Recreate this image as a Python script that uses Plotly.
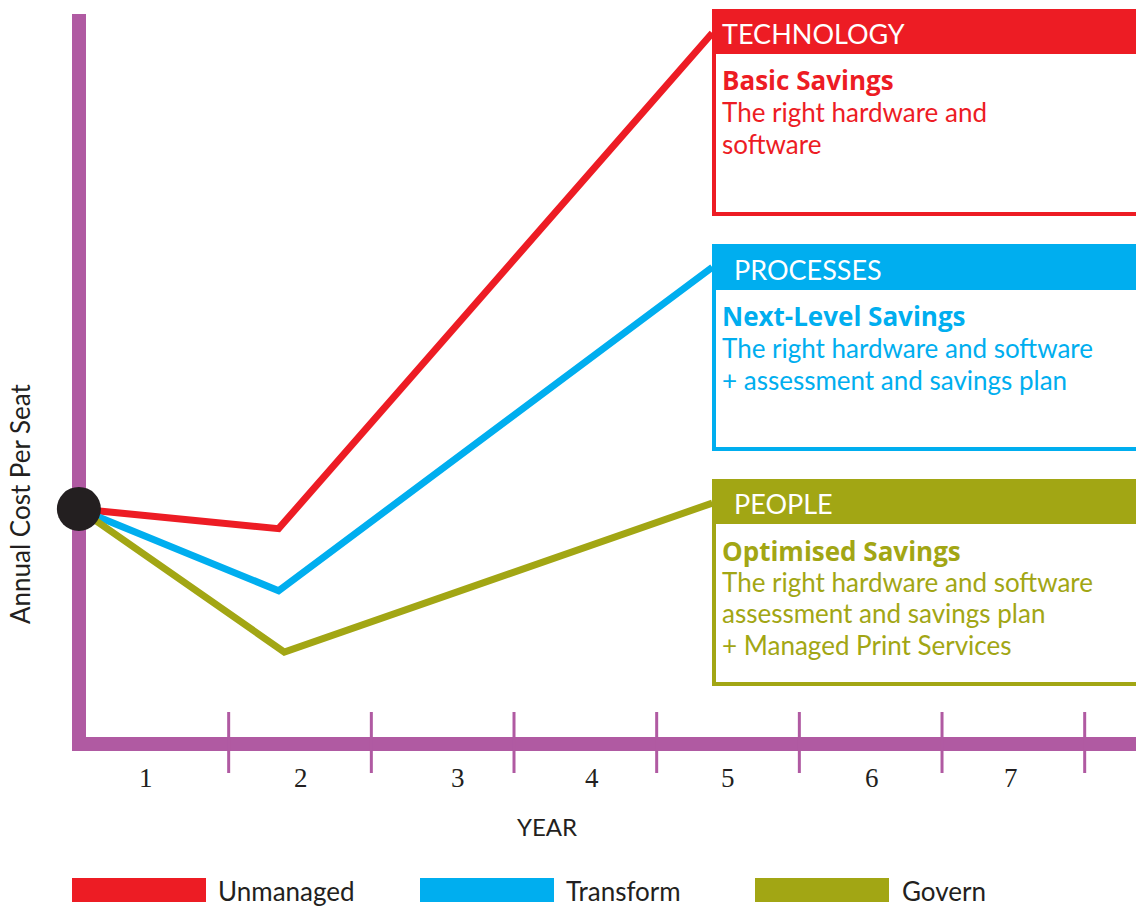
import plotly.graph_objects as go

# ---------------- data ----------------
year_labels = ["1", "2", "3", "4", "5", "6", "7"]
year_label_pos = [0.42, 1.51, 2.61, 3.55, 4.50, 5.51, 6.48]   # year units
year_bounds = [1, 2, 3, 4, 5, 6, 7]

series_names = ["Unmanaged", "Transform", "Govern"]
series_colors = ["#ED1C24", "#00AEEF", "#A2A614"]
series_x = [
    [-0.05, 1.35, 4.39],
    [-0.05, 1.35, 4.39],
    [-0.05, 1.39, 4.39],
]
series_y = [
    [32.2, 29.5, 97.4],
    [32.2, 21.0, 65.3],
    [32.2, 12.6, 33.0],
]
start_x = [-0.05]
start_y = [32.2]

box_headers = ["TECHNOLOGY", "PROCESSES", "PEOPLE"]
box_titles = ["Basic Savings", "Next-Level Savings", "Optimised Savings"]
box_lines = [
    ["The right hardware and", "software"],
    ["The right hardware and software", "+ assessment and savings plan"],
    ["The right hardware and software", "assessment and savings plan", "+ Managed Print Services"],
]

# ---------------- geometry helpers ----------------
W, H = 1136, 906
X0, XS = 86.0, 142.67     # pixel of year 0, pixels per year
Y0, YS = 744.0, 7.3       # pixel of cost 0, pixels per unit
def px(p):  # pixel -> x data
    return (p - X0) / XS
def py(p):  # pixel -> y data
    return (Y0 - p) / YS

PURPLE = "#B05AA2"
DARK = "#231F20"
SANS = "Lato, 'Open Sans', sans-serif"
SANS_BOLD = "'Open Sans', Lato, sans-serif"
SERIF = "'Liberation Serif', 'DejaVu Serif', serif"
PAD = 3  # annotation inner padding

fig = go.Figure()
for name, col, xs, ys in zip(series_names, series_colors, series_x, series_y):
    fig.add_trace(go.Scatter(x=xs, y=ys, mode="lines", name=name,
                             line=dict(color=col, width=7), showlegend=False,
                             hoverinfo="skip"))
fig.add_trace(go.Scatter(x=start_x, y=start_y, mode="markers",
                         marker=dict(size=44, color=DARK), showlegend=False,
                         hoverinfo="skip"))

shapes = []
# axes bars
shapes.append(dict(type="rect", xref="x", yref="y", x0=px(72), x1=px(86), y0=py(751), y1=py(14),
                   fillcolor=PURPLE, line=dict(width=0), layer="below"))
shapes.append(dict(type="rect", xref="x", yref="y", x0=px(72), x1=px(1140), y0=py(751), y1=py(737),
                   fillcolor=PURPLE, line=dict(width=0), layer="below"))
for b in year_bounds:
    shapes.append(dict(type="line", xref="x", yref="y", x0=b, x1=b, y0=py(712), y1=py(773),
                       line=dict(color=PURPLE, width=3), layer="below"))

annotations = []
# boxes
box_geo = [  # (top, header_bottom, bottom, header_text_x)
    (9, 54, 216, 723),
    (244, 290, 451, 735),
    (479, 524, 686, 735),
]
body_y = [
    [80, 112, 144],
    [316, 348, 380],
    [551, 582, 613, 645],
]
for col, (top, hb, bot, hx), head, title, lines, ys in zip(
        series_colors, box_geo, box_headers, box_titles, box_lines, body_y):
    shapes.append(dict(type="rect", xref="x", yref="y", x0=px(714), x1=px(1160),
                       y0=py(bot - 2), y1=py(top + 2),
                       line=dict(color=col, width=4), fillcolor="rgba(0,0,0,0)", layer="above"))
    shapes.append(dict(type="rect", xref="x", yref="y", x0=px(712), x1=px(1160),
                       y0=py(hb), y1=py(top),
                       line=dict(width=0), fillcolor=col, layer="above"))
    annotations.append(dict(x=px(hx - PAD), y=py((top + hb) / 2 + 2), xref="x", yref="y",
                            text=head, showarrow=False, xanchor="left", yanchor="middle",
                            font=dict(family=SANS, size=27, color="white")))
    annotations.append(dict(x=px(723 - PAD), y=py(ys[0]), xref="x", yref="y",
                            text="<b>" + title + "</b>", showarrow=False, xanchor="left",
                            yanchor="middle", font=dict(family=SANS_BOLD, size=26, color=col)))
    for ln, yy in zip(lines, ys[1:]):
        annotations.append(dict(x=px(723 - PAD), y=py(yy), xref="x", yref="y",
                                text=ln, showarrow=False, xanchor="left", yanchor="middle",
                                font=dict(family=SANS, size=26, color=col)))

# year labels
for lab, pos in zip(year_labels, year_label_pos):
    annotations.append(dict(x=pos, y=py(778), xref="x", yref="y", text=lab, showarrow=False,
                            xanchor="center", yanchor="middle",
                            font=dict(family=SERIF, size=27, color=DARK)))
annotations.append(dict(x=px(547), y=py(826), xref="x", yref="y", text="YEAR", showarrow=False,
                        xanchor="center", yanchor="middle",
                        font=dict(family=SANS, size=24, color=DARK)))
annotations.append(dict(x=px(20), y=py(504), xref="x", yref="y", text="Annual Cost Per Seat",
                        showarrow=False, textangle=-90, xanchor="center", yanchor="middle",
                        font=dict(family=SANS, size=26, color=DARK)))

# legend
leg_rect_x = [(72, 206), (420, 554), (755, 889)]
leg_text_x = [219, 567, 903]
for name, col, (a, b), tx in zip(series_names, series_colors, leg_rect_x, leg_text_x):
    shapes.append(dict(type="rect", xref="x", yref="y", x0=px(a), x1=px(b), y0=py(902), y1=py(878),
                       fillcolor=col, line=dict(width=0), layer="below"))
    annotations.append(dict(x=px(tx - PAD), y=py(891), xref="x", yref="y", text=name, showarrow=False,
                            xanchor="left", yanchor="middle",
                            font=dict(family=SANS, size=26, color=DARK)))

fig.update_layout(
    width=W, height=H, autosize=False,
    margin=dict(l=0, r=0, t=0, b=0, pad=0),
    paper_bgcolor="white", plot_bgcolor="white",
    xaxis=dict(range=[px(0), px(W)], visible=False, fixedrange=True),
    yaxis=dict(range=[py(H), py(0)], visible=False, fixedrange=True),
    shapes=shapes, annotations=annotations, showlegend=False,
)

fig.write_html("out.html", config={"displayModeBar": False},
               post_script="document.body.style.margin='0';")
